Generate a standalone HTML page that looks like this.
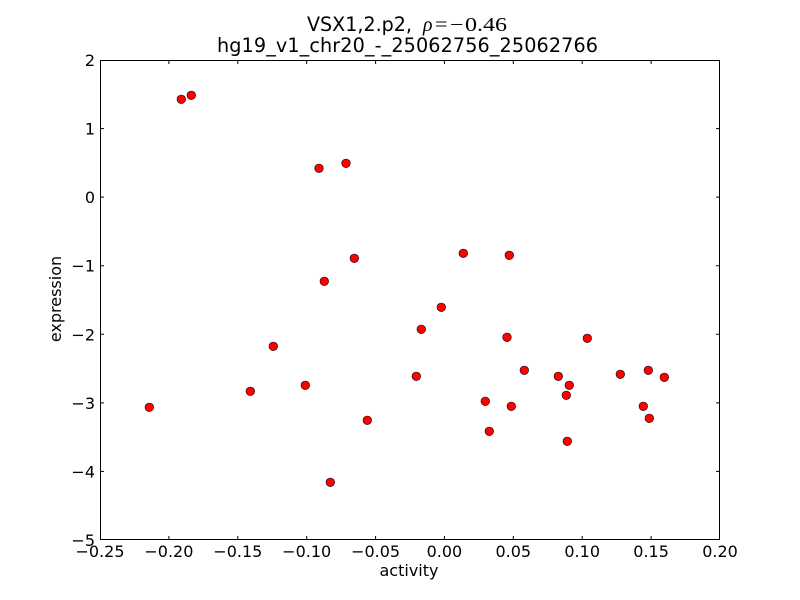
<!DOCTYPE html>
<html>
<head>
<meta charset="utf-8">
<style>
html,body{margin:0;padding:0;background:#fff;}
svg{display:block;}
text{font-family:"DejaVu Sans","Liberation Sans",sans-serif;fill:#000;}
.m{font-family:"Liberation Serif","DejaVu Serif",serif;}
</style>
</head>
<body>
<svg width="800" height="600" viewBox="0 0 800 600" xmlns="http://www.w3.org/2000/svg">
<rect x="0" y="0" width="800" height="600" fill="#fff"/>
<!-- title -->
<text x="307" y="31" font-size="19.2" textLength="105" lengthAdjust="spacingAndGlyphs">VSX1,2.p2,</text>
<text class="m" x="423" y="31" font-size="20" font-style="italic" textLength="9.5" lengthAdjust="spacingAndGlyphs">ρ</text>
<text class="m" x="435" y="31" font-size="20" textLength="12.5" lengthAdjust="spacingAndGlyphs">=</text>
<text class="m" x="450" y="31" font-size="20" textLength="13.5" lengthAdjust="spacingAndGlyphs">−</text>
<text class="m" x="465" y="31" font-size="20" textLength="42" lengthAdjust="spacingAndGlyphs">0.46</text>
<text x="217" y="52" font-size="19.2" textLength="381" lengthAdjust="spacing">hg19_v1_chr20_-_25062756_25062766</text>

<!-- points -->
<g fill="#ff0000" stroke="#000" stroke-width="0.6">
<circle cx="181.3" cy="99.3" r="4.3"/>
<circle cx="191.3" cy="95.3" r="4.3"/>
<circle cx="319" cy="168.3" r="4.3"/>
<circle cx="346" cy="163.3" r="4.3"/>
<circle cx="354.3" cy="258.3" r="4.3"/>
<circle cx="324.3" cy="281.3" r="4.3"/>
<circle cx="149.3" cy="407.3" r="4.3"/>
<circle cx="250.3" cy="391.3" r="4.3"/>
<circle cx="273.3" cy="346.3" r="4.3"/>
<circle cx="305.3" cy="385.3" r="4.3"/>
<circle cx="330.3" cy="482.3" r="4.3"/>
<circle cx="367.3" cy="420.3" r="4.3"/>
<circle cx="416.3" cy="376.3" r="4.3"/>
<circle cx="421.3" cy="329.3" r="4.3"/>
<circle cx="463.3" cy="253.3" r="4.3"/>
<circle cx="509.3" cy="255.3" r="4.3"/>
<circle cx="441.3" cy="307.3" r="4.3"/>
<circle cx="507" cy="337.3" r="4.3"/>
<circle cx="587.3" cy="338.3" r="4.3"/>
<circle cx="524.3" cy="370.3" r="4.3"/>
<circle cx="558.3" cy="376.3" r="4.3"/>
<circle cx="569.3" cy="385.3" r="4.3"/>
<circle cx="566.3" cy="395.3" r="4.3"/>
<circle cx="620.3" cy="374.3" r="4.3"/>
<circle cx="648.3" cy="370.3" r="4.3"/>
<circle cx="664.3" cy="377.3" r="4.3"/>
<circle cx="485.3" cy="401.3" r="4.3"/>
<circle cx="511.3" cy="406.3" r="4.3"/>
<circle cx="643.3" cy="406.3" r="4.3"/>
<circle cx="649.3" cy="418.3" r="4.3"/>
<circle cx="489.3" cy="431.3" r="4.3"/>
<circle cx="567.3" cy="441.3" r="4.3"/>
</g>

<!-- frame -->
<rect x="100.5" y="60.5" width="619" height="479" fill="none" stroke="#000" stroke-width="1"/>

<!-- ticks -->
<g stroke="#000" stroke-width="1">
<path d="M168.9 540V536M237.8 540V536M306.7 540V536M375.6 540V536M444.4 540V536M513.3 540V536M582.2 540V536M651.1 540V536"/>
<path d="M168.9 60V64M237.8 60V64M306.7 60V64M375.6 60V64M444.4 60V64M513.3 60V64M582.2 60V64M651.1 60V64"/>
<path d="M100 128.6H104M100 197.1H104M100 265.7H104M100 334.3H104M100 402.9H104M100 471.4H104"/>
<path d="M720 128.6H716M720 197.1H716M720 265.7H716M720 334.3H716M720 402.9H716M720 471.4H716"/>
</g>

<!-- x tick labels -->
<g font-size="16" text-anchor="middle">
<text x="100" y="557">−0.25</text>
<text x="168.9" y="557">−0.20</text>
<text x="237.8" y="557">−0.15</text>
<text x="306.7" y="557">−0.10</text>
<text x="375.6" y="557">−0.05</text>
<text x="444.4" y="557">0.00</text>
<text x="513.3" y="557">0.05</text>
<text x="582.2" y="557">0.10</text>
<text x="651.1" y="557">0.15</text>
<text x="720" y="557">0.20</text>
</g>
<!-- y tick labels -->
<g font-size="16" text-anchor="end">
<text x="95" y="66">2</text>
<text x="95" y="134.6">1</text>
<text x="95" y="203.1">0</text>
<text x="95" y="271.7">−1</text>
<text x="95" y="340.3">−2</text>
<text x="95" y="408.9">−3</text>
<text x="95" y="477.4">−4</text>
<text x="95" y="546">−5</text>
</g>

<!-- axis labels -->
<text x="409" y="576" font-size="16" text-anchor="middle">activity</text>
<text transform="translate(61,299) rotate(-90)" font-size="16" text-anchor="middle">expression</text>
</svg>
</body>
</html>
